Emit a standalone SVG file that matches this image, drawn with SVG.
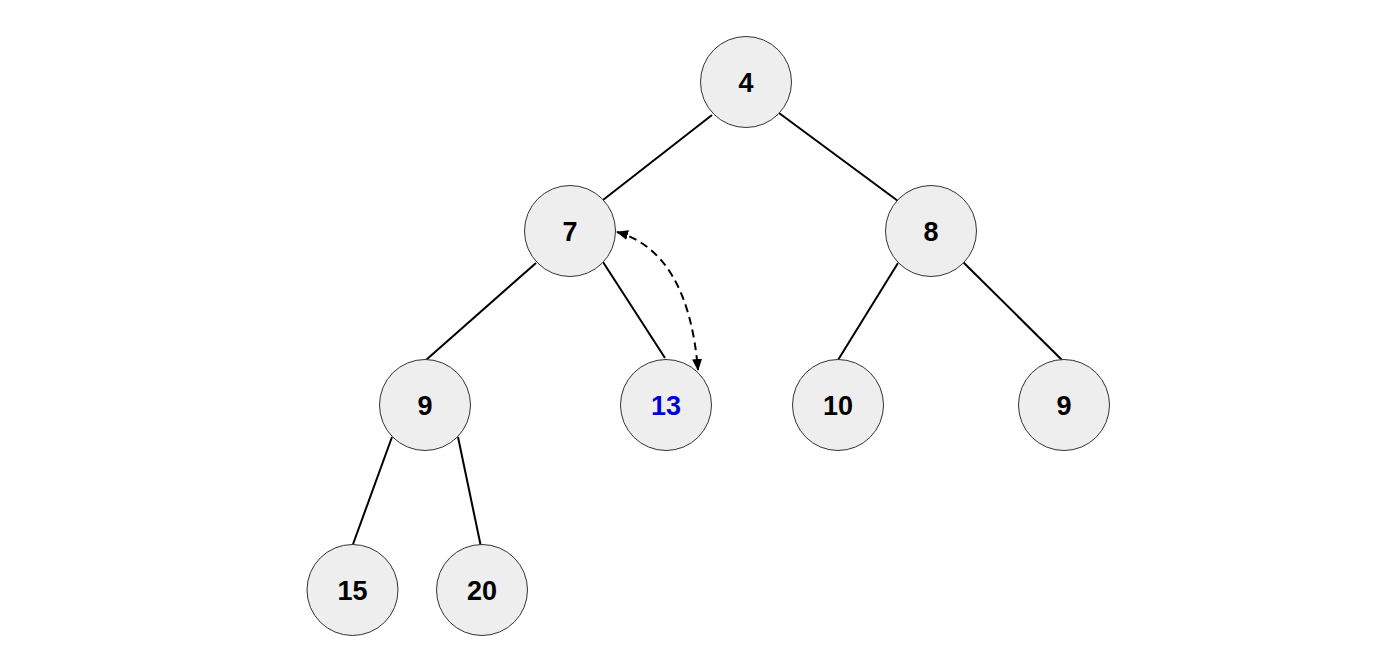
<svg xmlns="http://www.w3.org/2000/svg" width="1400" height="672" viewBox="0 0 1400 672">
<style>
.n circle{fill:#eeeeee;stroke:#333;stroke-width:1}
.n text{font-family:"Liberation Sans",Arial,sans-serif;font-weight:bold;font-size:27px;text-anchor:middle;fill:#000}
.e line{stroke:#000;stroke-width:2}
</style>
<defs>
<marker id="ah" viewBox="0 0 12 10" refX="11" refY="5" markerWidth="12" markerHeight="10" markerUnits="userSpaceOnUse" orient="auto-start-reverse">
<path d="M0,0 L12,5 L0,10 z" fill="#000"/>
</marker>
</defs>
<rect width="1400" height="672" fill="#fff"/>
<g id="connectors" class="e">
<line x1="712" y1="115" x2="603" y2="200"/>
<line x1="779" y1="113" x2="898" y2="201"/>
<line x1="536" y1="263" x2="426" y2="360"/>
<line x1="603" y1="262" x2="665" y2="358"/>
<line x1="898" y1="263" x2="838" y2="360"/>
<line x1="963" y1="262" x2="1064" y2="362"/>
<line x1="392" y1="437" x2="352" y2="547"/>
<line x1="458" y1="437" x2="481" y2="547"/>
<path d="M617,232 Q688,252 698,370" fill="none" stroke="#000" stroke-width="2" stroke-dasharray="8,5" marker-start="url(#ah)" marker-end="url(#ah)"/>
</g>
<g id="n4" class="n"><circle cx="746" cy="82" r="45.5"/><text x="746" y="92">4</text></g>
<g id="n7" class="n"><circle cx="570" cy="231" r="45.5"/><text x="570" y="241">7</text></g>
<g id="n8" class="n"><circle cx="931" cy="231" r="45.5"/><text x="931" y="241">8</text></g>
<g id="n9a" class="n"><circle cx="425" cy="405" r="45.5"/><text x="425" y="415">9</text></g>
<g id="n13" class="n"><circle cx="666" cy="405" r="45.5"/><text x="666" y="415" style="fill:#0000dd">13</text></g>
<g id="n10" class="n"><circle cx="838" cy="405" r="45.5"/><text x="838" y="415">10</text></g>
<g id="n9b" class="n"><circle cx="1064" cy="405" r="45.5"/><text x="1064" y="415">9</text></g>
<g id="n15" class="n"><circle cx="352.5" cy="590" r="45.5"/><text x="352.5" y="600">15</text></g>
<g id="n20" class="n"><circle cx="482" cy="590" r="45.5"/><text x="482" y="600">20</text></g>
</svg>
